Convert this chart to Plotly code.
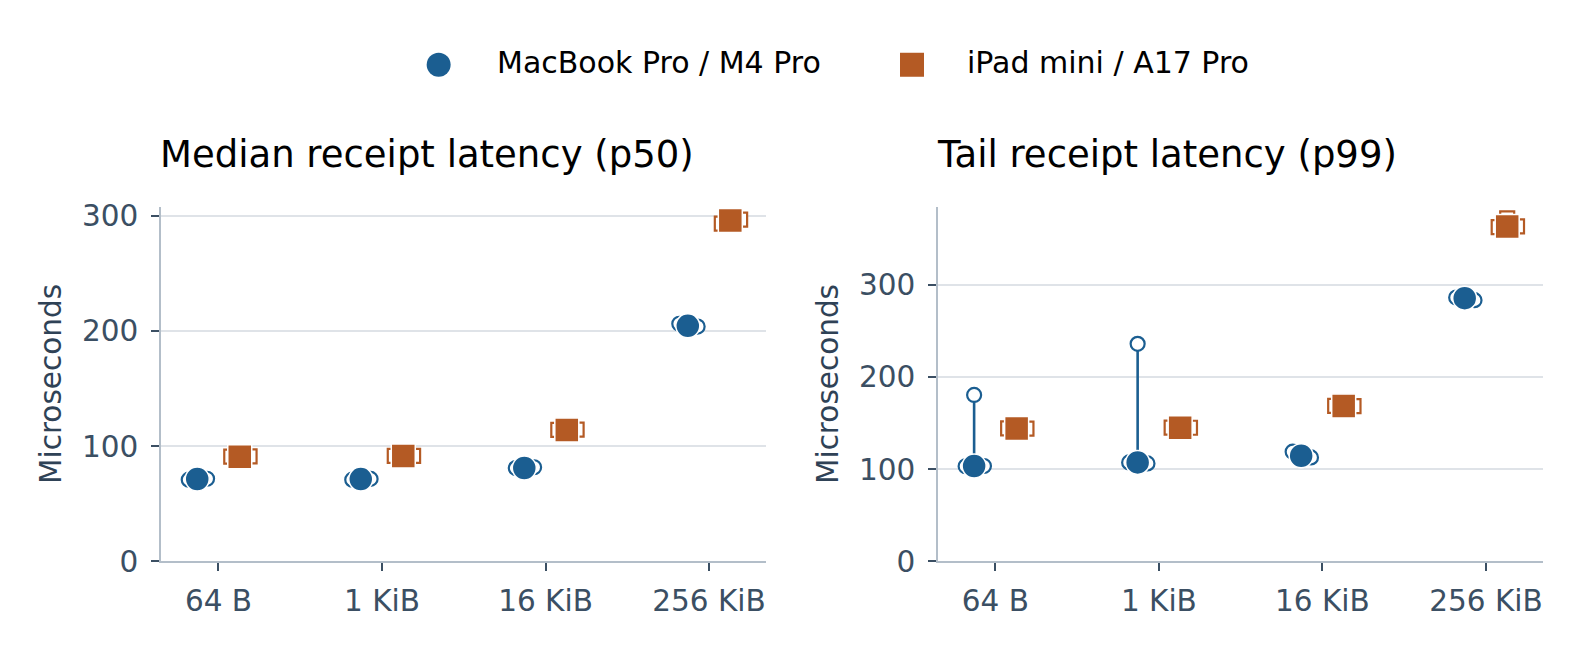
import numpy as np
import plotly.graph_objects as go

# payload sizes on the x axis
SIZES = ["64 B", "1 KiB", "16 KiB", "256 KiB"]

# three runs per size (microseconds), order: left, middle, right dot
MAC_P50_RUNS = [
    [70.9, 71.5, 71.7],
    [70.9, 71.4, 71.6],
    [81.0, 80.7, 81.7],
    [206.3, 204.5, 203.9],
]
IPAD_P50_RUNS = [
    [90.9, 90.9, 91.1],
    [91.5, 91.5, 91.6],
    [114.1, 114.1, 114.3],
    [293.2, 296.0, 296.7],
]
MAC_P99_RUNS = [
    [103.2, 180.6, 103.5],
    [107.4, 236.1, 106.3],
    [119.0, 114.7, 112.8],
    [286.4, 285.7, 283.5],
]
IPAD_P99_RUNS = [
    [144.3, 144.5, 144.1],
    [145.1, 145.3, 145.0],
    [168.7, 168.9, 168.5],
    [362.7, 372.2, 363.5],
]

MAC_NAME = "MacBook Pro / M4 Pro"
IPAD_NAME = "iPad mini / A17 Pro"
PANEL_TITLES = ["Median receipt latency (p50)", "Tail receipt latency (p99)"]
Y_TICKS = [0, 100, 200, 300]

MAC_COLOR = "#1b5e91"
IPAD_COLOR = "#b45a24"
TICK_COLOR = "#3b4f63"
AXIS_COLOR = "#b3bec9"
GRID_COLOR = "#dfe3e8"
FONT = "DejaVu Sans"

W, H = 1559, 635
# how figure pixels land in the final picture (measured from earlier renders)
OFF_X, SCALE_X = 8.5, 0.995
OFF_Y, SCALE_Y = 12.7, 0.963
SERIES_OFFSET = 0.13
JITTER = [-0.052, 0.0, 0.06]


def px(x):
    return (x - OFF_X) / SCALE_X / W


def py(y):
    return 1 - (y - OFF_Y) / SCALE_Y / H


def add_series(fig, runs, offset, symbol, color, xa, ya):
    runs = np.array(runs)
    pos = np.arange(len(SIZES)) + offset
    med = np.median(runs, axis=1)

    # min-max range line per size
    lx, ly = [], []
    for p, r in zip(pos, runs):
        lx += [p, p, None]
        ly += [r.min(), r.max(), None]
    fig.add_trace(go.Scatter(
        x=lx, y=ly, mode="lines", line=dict(color=color, width=2.6),
        xaxis=xa, yaxis=ya, showlegend=False, hoverinfo="skip",
    ))

    # individual runs, hollow
    rx, ry = [], []
    for p, r in zip(pos, runs):
        for j, v in zip(JITTER, r):
            rx.append(p + j)
            ry.append(v)
    fig.add_trace(go.Scatter(
        x=rx, y=ry, mode="markers",
        marker=dict(symbol=symbol, size=14, color="white", line=dict(color=color, width=2.2)),
        xaxis=xa, yaxis=ya, showlegend=False,
    ))

    # median of runs, filled
    fig.add_trace(go.Scatter(
        x=pos, y=med, mode="markers",
        marker=dict(symbol=symbol, size=24, color=color, line=dict(color="white", width=1.5)),
        xaxis=xa, yaxis=ya, showlegend=False,
    ))


fig = go.Figure()
panels = [(MAC_P50_RUNS, IPAD_P50_RUNS), (MAC_P99_RUNS, IPAD_P99_RUNS)]
for i, (mac, ipad) in enumerate(panels):
    xa = "x" if i == 0 else "x2"
    ya = "y" if i == 0 else "y2"
    add_series(fig, mac, -SERIES_OFFSET, "circle", MAC_COLOR, xa, ya)
    add_series(fig, ipad, SERIES_OFFSET, "square", IPAD_COLOR, xa, ya)

x_domains = [[px(161), px(763)], [px(934), px(1536)]]
y_domain = [py(559.5), py(204.5)]
y_ranges = [[0, 308], [0, 385]]

common_x = dict(
    range=[-0.35, 3.35], tickvals=list(range(len(SIZES))), ticktext=SIZES,
    showline=True, linecolor=AXIS_COLOR, linewidth=2,
    ticks="outside", ticklen=8, tickwidth=2, tickcolor=TICK_COLOR,
    showgrid=False, zeroline=False, ticklabelstandoff=4,
    tickfont=dict(family=FONT, size=29.5, color=TICK_COLOR),
)
common_y = dict(
    tickvals=Y_TICKS, showline=True, linecolor=AXIS_COLOR, linewidth=2,
    ticks="outside", ticklen=8, tickwidth=2, tickcolor=TICK_COLOR,
    showgrid=True, gridcolor=GRID_COLOR, gridwidth=1.5, zeroline=False,
    ticklabelstandoff=7,
    tickfont=dict(family=FONT, size=29.5, color=TICK_COLOR),
    title=dict(text="Microseconds", font=dict(family=FONT, size=29.5, color="#2f4256"), standoff=12),
)

fig.update_layout(
    width=W, height=H,
    margin=dict(l=0, r=0, t=0, b=0),
    paper_bgcolor="white", plot_bgcolor="white",
    showlegend=False,
    xaxis=dict(domain=x_domains[0], anchor="y", **common_x),
    xaxis2=dict(domain=x_domains[1], anchor="y2", **common_x),
    yaxis=dict(domain=y_domain, anchor="x", range=y_ranges[0], **common_y),
    yaxis2=dict(domain=y_domain, anchor="x2", range=y_ranges[1], **common_y),
)

# panel titles
for dom, title in zip(x_domains, PANEL_TITLES):
    fig.add_annotation(
        text=title, xref="paper", yref="paper", x=dom[0] - 3 / W, y=py(152.3),
        xanchor="left", yanchor="middle", showarrow=False,
        font=dict(family=FONT, size=37, color="black"),
    )

# legend drawn by hand so the symbols can be as large as in the reference
legend_items = [
    (MAC_NAME, "circle", MAC_COLOR, 437, 493),
    (IPAD_NAME, "rect", IPAD_COLOR, 908, 961),
]
for name, shape, color, sx, tx in legend_items:
    fig.add_shape(
        type=shape, xref="paper", yref="paper",
        xsizemode="pixel", ysizemode="pixel",
        xanchor=px(sx), yanchor=py(62.5),
        x0=-12, x1=12, y0=-12, y1=12,
        fillcolor=color, line=dict(width=0),
    )
    fig.add_annotation(
        text=name, xref="paper", yref="paper", x=px(tx), y=py(60.3),
        xanchor="left", yanchor="middle", showarrow=False,
        font=dict(family=FONT, size=30, color="black"),
    )

fig.write_html("out.html")
